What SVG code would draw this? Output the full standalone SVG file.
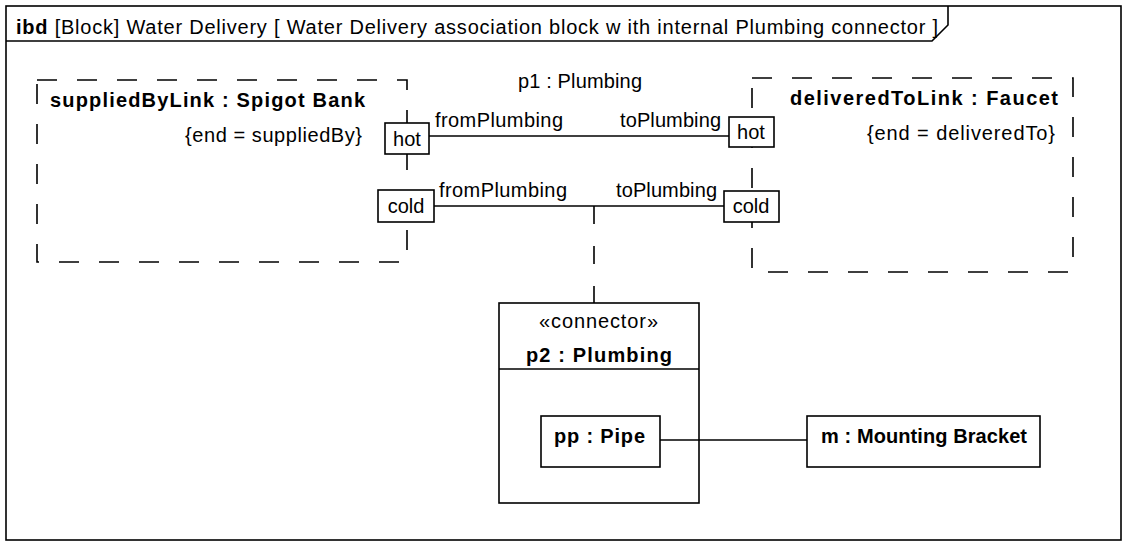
<svg xmlns="http://www.w3.org/2000/svg" width="1128" height="544" viewBox="0 0 1128 544">
<style>
text{font-family:"Liberation Sans",Arial,Helvetica,sans-serif;font-size:20px;fill:#000}
.b{font-weight:bold}
.frame{fill:#fff;stroke:#000;stroke-width:1.6}
.box{fill:#fff;stroke:#000;stroke-width:1.6}
.dash{fill:none;stroke:#000;stroke-width:1.6;stroke-dasharray:20 20}
.port{fill:#fff;stroke:#000;stroke-width:1.6}
.ln{fill:none;stroke:#000;stroke-width:1.6}
.dl{fill:none;stroke:#000;stroke-width:1.6;stroke-dasharray:18 22}
</style>
<g id="frame">
<rect class="frame" x="6" y="6" width="1115" height="534"/>
<path class="ln" d="M6,41 H932 L948,25 V6"/>
<text x="16" y="34" textLength="922" lengthAdjust="spacing"><tspan class="b">ibd</tspan>  [Block] Water Delivery [ Water Delivery association block w ith internal Plumbing connector ]</text>
</g>
<g id="suppliedByLink">
<rect class="dash" x="37" y="80" width="370" height="182"/>
<text class="b" x="50" y="107" textLength="315" lengthAdjust="spacing">suppliedByLink : Spigot Bank</text>
<text x="185" y="142" textLength="177" lengthAdjust="spacing">{end = suppliedBy}</text>
</g>
<g id="deliveredToLink">
<rect class="dash" x="752" y="78" width="321" height="194"/>
<text class="b" x="790" y="105" textLength="268" lengthAdjust="spacing">deliveredToLink : Faucet</text>
<text x="867" y="140" textLength="188" lengthAdjust="spacing">{end = deliveredTo}</text>
</g>
<g id="p2">
<rect class="box" x="499" y="303" width="200" height="200"/>
<line class="ln" x1="499" y1="369" x2="699" y2="369"/>
<text x="539" y="328" textLength="119" lengthAdjust="spacing">«connector»</text>
<text class="b" x="526" y="362" textLength="146" lengthAdjust="spacing">p2 : Plumbing</text>
</g>
<g id="pp">
<rect class="box" x="541" y="416" width="119" height="51"/>
<text class="b" x="554" y="443" textLength="91" lengthAdjust="spacing">pp : Pipe</text>
</g>
<g id="m">
<rect class="box" x="807" y="416" width="233" height="51"/>
<text class="b" x="821" y="443" textLength="206" lengthAdjust="spacing">m : Mounting Bracket</text>
</g>
<g id="connectors">
<line class="ln" x1="429" y1="136" x2="729" y2="136"/>
<line class="ln" x1="434" y1="206" x2="724" y2="206"/>
<line class="dl" x1="594" y1="206" x2="594" y2="303"/>
<line class="ln" x1="660" y1="440" x2="807" y2="440"/>
<text x="518" y="88" textLength="124" lengthAdjust="spacing">p1 : Plumbing</text>
<text x="435" y="127" textLength="128" lengthAdjust="spacing">fromPlumbing</text>
<text x="620" y="127" textLength="101" lengthAdjust="spacing">toPlumbing</text>
<text x="439" y="197" textLength="128" lengthAdjust="spacing">fromPlumbing</text>
<text x="616" y="197" textLength="101" lengthAdjust="spacing">toPlumbing</text>
</g>
<g id="port-left-hot">
<rect class="port" x="385" y="123" width="44" height="31"/>
<text x="407" y="146" text-anchor="middle">hot</text>
</g>
<g id="port-left-cold">
<rect class="port" x="378" y="190" width="56" height="32"/>
<text x="406" y="213" text-anchor="middle">cold</text>
</g>
<g id="port-right-hot">
<rect class="port" x="729" y="117" width="45" height="30"/>
<text x="751" y="139" text-anchor="middle">hot</text>
</g>
<g id="port-right-cold">
<rect class="port" x="724" y="191" width="55" height="31"/>
<text x="751" y="213" text-anchor="middle">cold</text>
</g>
</svg>
